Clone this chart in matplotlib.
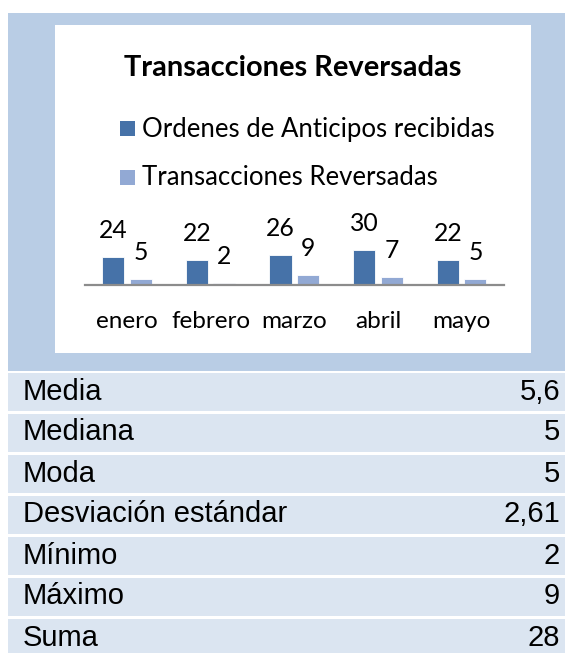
import numpy as np
import matplotlib
matplotlib.use("Agg")
import matplotlib.pyplot as plt
from matplotlib.patches import Rectangle

# Chart data
months = ["enero", "febrero", "marzo", "abril", "mayo"]
ordenes = [24, 22, 26, 30, 22]
reversadas = [5, 2, 9, 7, 5]
series_names = ["Ordenes de Anticipos recibidas", "Transacciones Reversadas"]
title = "Transacciones Reversadas"
stat_names = ["Media", "Mediana", "Moda", "Desviación estándar", "Mínimo", "Máximo", "Suma"]

# Summary statistics of the reversed transactions
rev = np.array(reversadas, dtype=float)
vals, counts = np.unique(rev, return_counts=True)
stat_values = [
    rev.mean(),
    np.median(rev),
    vals[np.argmax(counts)],
    rev.std(ddof=1),
    rev.min(),
    rev.max(),
    rev.sum(),
]


def fmt(v):
    s = f"{round(v, 2):.2f}".rstrip("0").rstrip(".")
    return s.replace(".", ",")


W, H = 565, 653
DARK = "#4672A8"
LIGHT = "#92A9D4"
PANEL = "#B9CDE5"
ROW = "#DBE5F1"
CHART_FONT = "Lato"
TABLE_FONT = "Liberation Sans"


def fx(x):
    return x / W


def fy(y):
    return 1 - y / H


fig = plt.figure(figsize=(W / 100, H / 100), dpi=100)
fig.patch.set_facecolor("white")


def rect(x0, y0, x1, y1, color):
    fig.add_artist(Rectangle((fx(x0), fy(y1)), fx(x1) - fx(x0), fy(y0) - fy(y1),
                             transform=fig.transFigure, facecolor=color,
                             edgecolor="none", zorder=0))


# Outer panel and white chart area
rect(8, 13, 565, 370.7, PANEL)
rect(55, 25.3, 531, 352.7, "white")

# Title
fig.text(fx(293), fy(76), title, ha="center", va="baseline",
         fontsize=20.9, fontweight="bold", family=CHART_FONT)

# Legend
for i, (name, col) in enumerate(zip(series_names, [DARK, LIGHT])):
    top = 121 + i * 49
    rect(120, top, 135, top + 15, col)
    fig.text(fx(142.3), fy(top + 15.5), name, ha="left", va="baseline",
             fontsize=18.5, family=CHART_FONT)

# Bar axes
px_per_unit = 1.17
ax_left, ax_right, base, ax_top = 85, 503.5, 285.3, 200
ax = fig.add_axes([fx(ax_left), fy(base), fx(ax_right) - fx(ax_left), fy(ax_top) - fy(base)])
ax.set_xlim(-0.5, len(months) - 0.5)
ax.set_ylim(0, (base - ax_top) / px_per_unit)
ax.patch.set_alpha(0)
for sp in ["top", "left", "right"]:
    ax.spines[sp].set_visible(False)
ax.spines["bottom"].set_color("#8C8C8C")
ax.spines["bottom"].set_linewidth(1.6)
ax.set_yticks([])
ax.set_xticks([])

x = np.arange(len(months))
bw, off = 0.264, 0.1645
b1 = ax.bar(x - off, ordenes, bw, color=DARK, edgecolor="white", linewidth=0.6, zorder=2)
b2 = ax.bar(x + off, reversadas, bw, color=LIGHT, edgecolor="white", linewidth=0.6, zorder=2)
for bars, data in ((b1, ordenes), (b2, reversadas)):
    for rct, v in zip(bars, data):
        ax.annotate(str(v), (rct.get_x() + rct.get_width() / 2, v),
                    xytext=(0, 19 * 0.72), textcoords="offset points",
                    ha="center", va="baseline", fontsize=17.8, family=CHART_FONT,
                    annotation_clip=False)

# Category labels
tr = matplotlib.transforms.blended_transform_factory(ax.transData, fig.transFigure)
for xi, m in zip(x, months):
    ax.text(xi, fy(328.3), m, transform=tr, ha="center", va="baseline",
            fontsize=17.5, family=CHART_FONT)

# Statistics table
row_top0, pitch, row_h = 372.7, 41.0, 37.8
for i, (name, v) in enumerate(zip(stat_names, stat_values)):
    top = row_top0 + i * pitch
    rect(8, top, 565, top + row_h, ROW)
    fig.text(fx(22.7), fy(top + 26.8), name, ha="left", va="baseline",
             fontsize=21.0, family=TABLE_FONT)
    fig.text(fx(560), fy(top + 26.8), fmt(v), ha="right", va="baseline",
             fontsize=21.0, family=TABLE_FONT)

fig.savefig("out.png", dpi=100)
